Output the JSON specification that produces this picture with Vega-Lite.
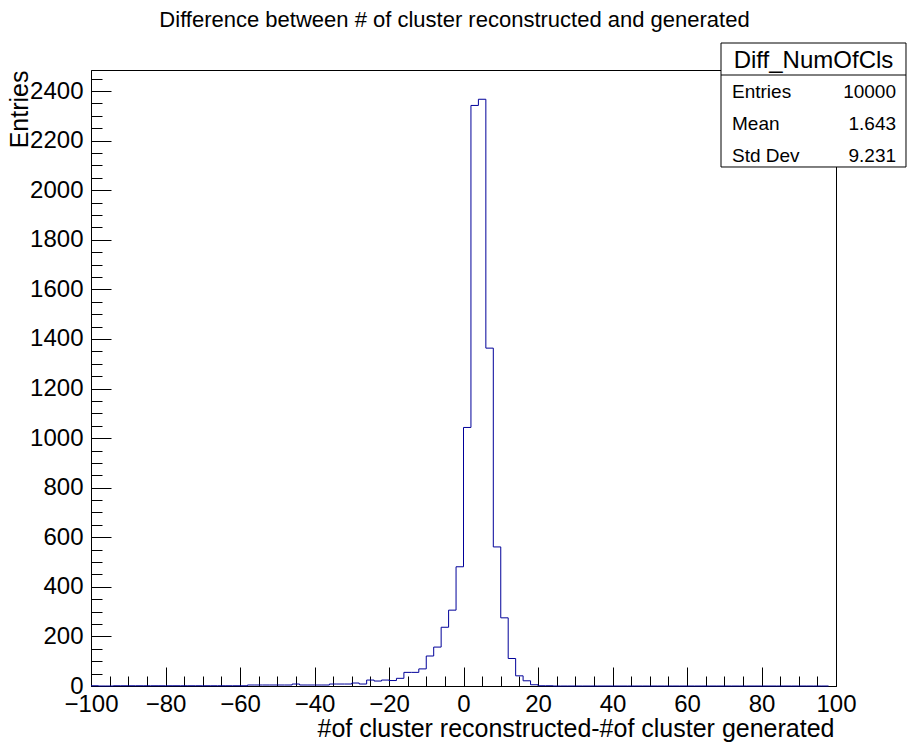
{
  "$schema": "https://vega.github.io/schema/vega-lite/v6.json",
  "autosize": {"type": "none"},
  "padding": {"left": 91, "top": 70, "right": 76, "bottom": 60},
  "width": 745,
  "height": 616,
  "background": "white",
  "config": {
    "view": {"stroke": "black", "strokeWidth": 1},
    "font": "Liberation Sans",
    "axis": {"grid": false, "domainColor": "black", "domainWidth": 1, "tickColor": "black", "tickWidth": 1, "labelColor": "black", "titleColor": "black", "labelFont": "Liberation Sans", "titleFont": "Liberation Sans", "titleFontWeight": "normal"}
  },
  "title": {"text": "Difference between # of cluster reconstructed and generated", "font": "Liberation Sans", "fontSize": 22, "fontWeight": "normal", "color": "black", "anchor": "middle", "frame": "group", "dx": -9, "baseline": "alphabetic", "offset": -6},
  "resolve": {"axis": {"x": "independent", "y": "independent"}},
  "datasets": {
    "hist": [
      {"bin_start": -100, "entries": 1}, {"bin_start": -98, "entries": 0}, {"bin_start": -96, "entries": 0}, {"bin_start": -94, "entries": 1},
      {"bin_start": -92, "entries": 1}, {"bin_start": -90, "entries": 1}, {"bin_start": -88, "entries": 1}, {"bin_start": -86, "entries": 1},
      {"bin_start": -84, "entries": 1}, {"bin_start": -82, "entries": 1}, {"bin_start": -80, "entries": 1}, {"bin_start": -78, "entries": 1},
      {"bin_start": -76, "entries": 1}, {"bin_start": -74, "entries": 1}, {"bin_start": -72, "entries": 1}, {"bin_start": -70, "entries": 1},
      {"bin_start": -68, "entries": 1}, {"bin_start": -66, "entries": 1}, {"bin_start": -64, "entries": 1}, {"bin_start": -62, "entries": 1},
      {"bin_start": -60, "entries": 1}, {"bin_start": -58, "entries": 4}, {"bin_start": -56, "entries": 4}, {"bin_start": -54, "entries": 4},
      {"bin_start": -52, "entries": 4}, {"bin_start": -50, "entries": 4}, {"bin_start": -48, "entries": 4}, {"bin_start": -46, "entries": 8},
      {"bin_start": -44, "entries": 4}, {"bin_start": -42, "entries": 4}, {"bin_start": -40, "entries": 4}, {"bin_start": -38, "entries": 4},
      {"bin_start": -36, "entries": 8}, {"bin_start": -34, "entries": 8}, {"bin_start": -32, "entries": 8}, {"bin_start": -30, "entries": 12},
      {"bin_start": -28, "entries": 8}, {"bin_start": -26, "entries": 24}, {"bin_start": -24, "entries": 20}, {"bin_start": -22, "entries": 24},
      {"bin_start": -20, "entries": 22}, {"bin_start": -18, "entries": 31}, {"bin_start": -16, "entries": 55}, {"bin_start": -14, "entries": 55},
      {"bin_start": -12, "entries": 69}, {"bin_start": -10, "entries": 121}, {"bin_start": -8, "entries": 157}, {"bin_start": -6, "entries": 237},
      {"bin_start": -4, "entries": 306}, {"bin_start": -2, "entries": 481}, {"bin_start": 0, "entries": 1043}, {"bin_start": 2, "entries": 2342},
      {"bin_start": 4, "entries": 2367}, {"bin_start": 6, "entries": 1363}, {"bin_start": 8, "entries": 561}, {"bin_start": 10, "entries": 275},
      {"bin_start": 12, "entries": 111}, {"bin_start": 14, "entries": 41}, {"bin_start": 16, "entries": 21}, {"bin_start": 18, "entries": 5},
      {"bin_start": 20, "entries": 1}, {"bin_start": 22, "entries": 1}, {"bin_start": 24, "entries": 0}, {"bin_start": 26, "entries": 0},
      {"bin_start": 28, "entries": 0}, {"bin_start": 30, "entries": 0}, {"bin_start": 32, "entries": 0}, {"bin_start": 34, "entries": 0},
      {"bin_start": 36, "entries": 0}, {"bin_start": 38, "entries": 0}, {"bin_start": 40, "entries": 0}, {"bin_start": 42, "entries": 0},
      {"bin_start": 44, "entries": 0}, {"bin_start": 46, "entries": 0}, {"bin_start": 48, "entries": 0}, {"bin_start": 50, "entries": 0},
      {"bin_start": 52, "entries": 0}, {"bin_start": 54, "entries": 0}, {"bin_start": 56, "entries": 0}, {"bin_start": 58, "entries": 0},
      {"bin_start": 60, "entries": 0}, {"bin_start": 62, "entries": 0}, {"bin_start": 64, "entries": 0}, {"bin_start": 66, "entries": 0},
      {"bin_start": 68, "entries": 0}, {"bin_start": 70, "entries": 0}, {"bin_start": 72, "entries": 0}, {"bin_start": 74, "entries": 0},
      {"bin_start": 76, "entries": 0}, {"bin_start": 78, "entries": 0}, {"bin_start": 80, "entries": 0}, {"bin_start": 82, "entries": 0},
      {"bin_start": 84, "entries": 0}, {"bin_start": 86, "entries": 0}, {"bin_start": 88, "entries": 0}, {"bin_start": 90, "entries": 0},
      {"bin_start": 92, "entries": 0}, {"bin_start": 94, "entries": 0}, {"bin_start": 96, "entries": 0}, {"bin_start": 98, "entries": 0}
    ]
  },
  "layer": [
    {
      "data": {"name": "hist"},
      "mark": {"type": "line", "interpolate": "step-after", "color": "#000099", "strokeWidth": 1},
      "encoding": {
        "x": {
          "field": "bin_start", "type": "quantitative",
          "scale": {"domain": [-100, 100], "nice": false, "zero": false},
          "axis": {
            "orient": "bottom",
            "title": "#of cluster reconstructed-#of cluster generated",
            "titleFontSize": 25, "titleAnchor": "end", "titleAlign": "right", "titleBaseline": "alphabetic", "titleX": 743, "titleY": 50,
            "values": [-100, -80, -60, -40, -20, 0, 20, 40, 60, 80, 100],
            "format": "d",
            "labelFontSize": 24, "labelFlush": false, "labelOverlap": false, "labelBaseline": "alphabetic", "labelPadding": 44,
            "tickSize": -19
          }
        },
        "y": {
          "field": "entries", "type": "quantitative",
          "scale": {"domain": [0, 2485], "nice": false},
          "axis": {
            "orient": "left",
            "title": "Entries",
            "titleFontSize": 25, "titleAngle": -90, "titleAnchor": "end", "titleAlign": "right", "titleBaseline": "alphabetic", "titleX": -64, "titleY": 0,
            "values": [0, 200, 400, 600, 800, 1000, 1200, 1400, 1600, 1800, 2000, 2200, 2400],
            "format": "d",
            "labelFontSize": 24, "labelFlush": false, "labelOverlap": false, "labelPadding": 28,
            "tickSize": -20
          }
        }
      }
    },
    {
      "data": {"values": [{}]},
      "mark": {"type": "rect", "fill": "white", "stroke": "black", "strokeWidth": 1},
      "encoding": {
        "x": {"datum": 69.13, "type": "quantitative", "scale": {"domain": [-100, 100], "nice": false, "zero": false},
          "axis": {"orient": "bottom", "values": [-95, -90, -85, -75, -70, -65, -55, -50, -45, -35, -30, -25, -15, -10, -5, 5, 10, 15, 25, 30, 35, 45, 50, 55, 65, 70, 75, 85, 90, 95], "labels": false, "domain": false, "title": null, "tickSize": -10}},
        "x2": {"datum": 118.79},
        "y": {"datum": 2593.9, "type": "quantitative", "scale": {"domain": [0, 2485], "nice": false},
          "axis": {"orient": "left", "values": [50, 100, 150, 250, 300, 350, 450, 500, 550, 650, 700, 750, 850, 900, 950, 1050, 1100, 1150, 1250, 1300, 1350, 1450, 1500, 1550, 1650, 1700, 1750, 1850, 1900, 1950, 2050, 2100, 2150, 2250, 2300, 2350, 2450], "labels": false, "domain": false, "title": null, "tickSize": -11}},
        "y2": {"datum": 2093.7}
      }
    },
    {
      "data": {"values": [{}]},
      "mark": {"type": "rule", "color": "black", "strokeWidth": 1},
      "encoding": {
        "x": {"datum": 69.13, "type": "quantitative", "scale": {"domain": [-100, 100], "nice": false, "zero": false}, "axis": null},
        "x2": {"datum": 118.79},
        "y": {"datum": 2464.8, "type": "quantitative", "scale": {"domain": [0, 2485], "nice": false}, "axis": null}
      }
    },
    {
      "data": {"values": [{}]},
      "mark": {"type": "text", "text": "Diff_NumOfCls", "font": "Liberation Sans", "fontSize": 24, "align": "center", "baseline": "alphabetic", "color": "black"},
      "encoding": {
        "x": {"datum": 93.96, "type": "quantitative", "scale": {"domain": [-100, 100], "nice": false, "zero": false}, "axis": null},
        "y": {"datum": 2493, "type": "quantitative", "scale": {"domain": [0, 2485], "nice": false}, "axis": null}
      }
    },
    {
      "data": {"values": [{}]},
      "mark": {"type": "text", "text": ["Entries", "Mean", "Std Dev"], "lineHeight": 31.7, "font": "Liberation Sans", "fontSize": 19, "align": "left", "baseline": "alphabetic", "color": "black"},
      "encoding": {
        "x": {"datum": 72.08, "type": "quantitative", "scale": {"domain": [-100, 100], "nice": false, "zero": false}, "axis": null},
        "y": {"datum": 2371, "type": "quantitative", "scale": {"domain": [0, 2485], "nice": false}, "axis": null}
      }
    },
    {
      "data": {"values": [{}]},
      "mark": {"type": "text", "text": ["10000", "1.643", "9.231"], "lineHeight": 31.7, "font": "Liberation Sans", "fontSize": 19, "align": "right", "baseline": "alphabetic", "color": "black"},
      "encoding": {
        "x": {"datum": 116.11, "type": "quantitative", "scale": {"domain": [-100, 100], "nice": false, "zero": false}, "axis": null},
        "y": {"datum": 2371, "type": "quantitative", "scale": {"domain": [0, 2485], "nice": false}, "axis": null}
      }
    }
  ]
}
